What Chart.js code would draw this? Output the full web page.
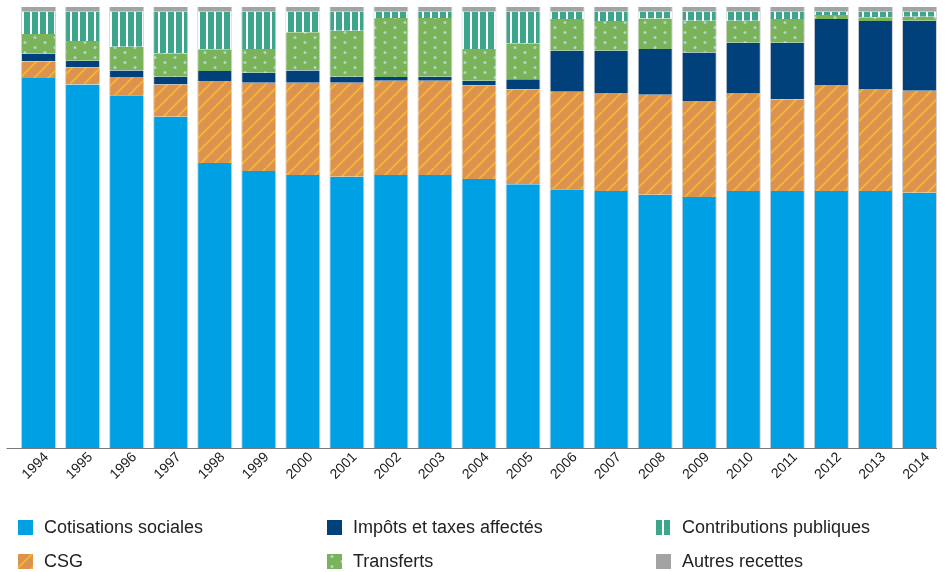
<!DOCTYPE html>
<html lang="fr">
<head>
<meta charset="utf-8">
<script src="https://cdn.jsdelivr.net/npm/chart.js@4/dist/chart.umd.min.js"></script>
<style>
  html, body { margin: 0; padding: 0; background: #fff; }
  #wrap { position: relative; width: 952px; height: 572px; }
  #chart { position: absolute; left: 0; top: 0; }
  .leg { position: absolute; display: flex; align-items: center;
         font-family: "Liberation Sans", Arial, sans-serif; font-size: 18px; color: #222; white-space: nowrap; }
  .leg canvas { margin-right: 11px; }
</style>
</head>
<body>
<div id="wrap">
  <canvas id="chart" width="952" height="572"></canvas>
  <div id="legend"></div>
</div>
<script>
// Structure des recettes (en % du total), 1994-2014
const years = ['1994','1995','1996','1997','1998','1999','2000','2001','2002','2003','2004',
               '2005','2006','2007','2008','2009','2010','2011','2012','2013','2014'];
const cotisations   = [83.9,82.4,80.0,75.1,64.6,62.8,61.9,61.5,61.9,61.9,61.0,59.8,58.7,58.3,57.4,56.9,58.3,58.3,58.3,58.3,57.9];
const csg           = [3.8,3.9,4.1,7.3,18.6,20.0,20.9,21.3,21.4,21.4,21.2,21.5,22.1,22.2,22.7,21.8,22.2,20.8,24.0,23.1,23.1];
const impots        = [1.7,1.5,1.5,1.8,2.3,2.3,2.8,1.4,0.8,0.9,1.1,2.3,9.3,9.6,10.4,11.0,11.4,12.8,15.0,15.4,15.9];
const transferts    = [4.5,4.5,5.4,5.3,4.9,5.4,8.7,10.4,13.4,13.3,7.2,8.2,7.2,6.7,6.9,7.2,5.0,5.4,0.9,0.9,0.9];
const contributions = [5.0,6.6,7.9,9.4,8.5,8.4,4.6,4.3,1.4,1.4,8.4,7.1,1.6,2.1,1.5,2.0,2.0,1.6,0.7,1.2,1.1];
const autres        = [1.1,1.1,1.1,1.1,1.1,1.1,1.1,1.1,1.1,1.1,1.1,1.1,1.1,1.1,1.1,1.1,1.1,1.1,1.1,1.1,1.1];

const seriesNames = ['Cotisations sociales','CSG','Impôts et taxes affectés','Transferts','Contributions publiques','Autres recettes'];

// ---- fill patterns ----
function tile(w, h, draw) {
  const c = document.createElement('canvas');
  c.width = w; c.height = h;
  draw(c.getContext('2d'), w, h);
  return c;
}
const ctxMain = document.getElementById('chart').getContext('2d');

// CSG: diagonal yellow hatching on orange
const csgTile = tile(14, 14, (g, w, h) => {
  g.fillStyle = '#DD9350'; g.fillRect(0, 0, w, h);
  g.strokeStyle = '#F4B735'; g.lineWidth = 1.8;
  for (const o of [-w, 0, w]) {
    g.beginPath(); g.moveTo(o, h); g.lineTo(o + w, 0); g.stroke();
  }
});
// Transferts: staggered light dots on green
const transTile = tile(20, 10, (g, w, h) => {
  g.fillStyle = '#7BB35B'; g.fillRect(0, 0, w, h);
  g.fillStyle = '#ACD5CB';
  g.beginPath(); g.arc(5, 2.5, 1.5, 0, Math.PI * 2); g.fill();
  g.beginPath(); g.arc(15, 7.5, 1.5, 0, Math.PI * 2); g.fill();
});
// Contributions publiques: white vertical stripes on teal
const contribTile = tile(8, 8, (g, w, h) => {
  g.fillStyle = '#3DA58C'; g.fillRect(0, 0, w, h);
  g.fillStyle = '#ffffff'; g.fillRect(6, 0, 2, h);
});

const fills = [
  '#00A0E4',
  ctxMain.createPattern(csgTile, 'repeat'),
  '#00417B',
  ctxMain.createPattern(transTile, 'repeat'),
  ctxMain.createPattern(contribTile, 'repeat'),
  '#A3A3A3'
];
const values = [cotisations, csg, impots, transferts, contributions, autres];

// baseline under the bars, from the left edge of the plot to the last column
const baseline = {
  id: 'baseline',
  afterDatasetsDraw(chart) {
    const meta = chart.getDatasetMeta(0);
    const last = meta.data[meta.data.length - 1];
    const g = chart.ctx, y = Math.round(chart.chartArea.bottom) + 0.5;
    g.save();
    g.strokeStyle = '#7a7a7a'; g.lineWidth = 1;
    g.beginPath();
    g.moveTo(chart.chartArea.left - 10, y);
    g.lineTo(last.x + last.width / 2, y);
    g.stroke();
    g.restore();
  }
};

new Chart(ctxMain, {
  type: 'bar',
  data: {
    labels: years,
    datasets: values.map((v, i) => ({
      label: seriesNames[i],
      data: v,
      backgroundColor: fills[i],
      borderColor: '#cfcfcf',
      borderWidth: { left: 1, right: 1, top: 0, bottom: 0 },
      borderSkipped: false,
      barPercentage: 0.795,
      categoryPercentage: 1
    }))
  },
  options: {
    responsive: false,
    animation: false,
    layout: { padding: { top: 7, left: 16.5, right: 10.5, bottom: 0 } },
    plugins: { legend: { display: false }, tooltip: { enabled: false } },
    scales: {
      x: {
        stacked: true,
        grid: { display: false, drawTicks: false },
        border: { display: false },
        ticks: {
          minRotation: 45, maxRotation: 45, padding: 1, labelOffset: 8,
          color: '#1a1a1a',
          font: { family: '"Liberation Sans", Arial, sans-serif', size: 14 }
        },
        afterFit(scale) { scale.height = 124; }
      },
      y: { stacked: true, display: false, min: 0, max: 100 }
    }
  },
  plugins: [baseline]
});

// ---- legend: three columns of two entries ----
const legendPos = [
  [18, 527], [18, 561],
  [327, 527], [327, 561],
  [656, 527], [656, 561]
];
const legend = document.getElementById('legend');
seriesNames.forEach((name, i) => {
  const item = document.createElement('div');
  item.className = 'leg';
  item.style.left = legendPos[i][0] + 'px';
  item.style.top = (legendPos[i][1] - 11) + 'px';
  item.style.height = '22px';
  const sw = document.createElement('canvas');
  sw.width = 15; sw.height = 15;
  const g = sw.getContext('2d');
  g.fillStyle = fills[i];
  g.fillRect(0, 0, 15, 15);
  item.appendChild(sw);
  item.appendChild(document.createTextNode(name));
  legend.appendChild(item);
});
</script>
</body>
</html>
